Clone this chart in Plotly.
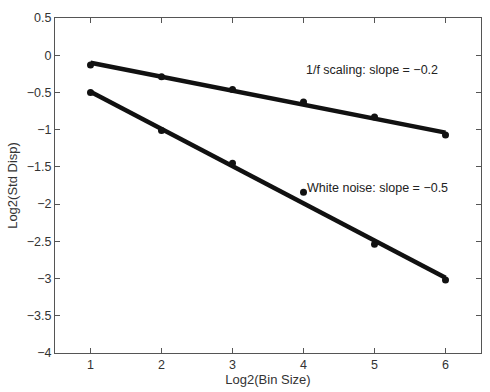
import plotly.graph_objects as go

bin_size = [1, 2, 3, 4, 5, 6]
pink_std = [-0.13, -0.29, -0.46, -0.63, -0.83, -1.07]
white_std = [-0.50, -1.01, -1.45, -1.84, -2.54, -3.02]

fit_x = [1, 6]
pink_fit = [-0.10, -1.04]
white_fit = [-0.49, -2.99]

x_ticks = [1, 2, 3, 4, 5, 6]
y_ticks = [0.5, 0, -0.5, -1, -1.5, -2, -2.5, -3, -3.5, -4]
y_labels = ["0.5", "0", "\u22120.5", "\u22121", "\u22121.5", "\u22122", "\u22122.5", "\u22123", "\u22123.5", "\u22124"]

font_family = "Liberation Sans, Arial, Helvetica, sans-serif"

fig = go.Figure()
for ys in (pink_fit, white_fit):
    fig.add_trace(go.Scatter(x=fit_x, y=ys, mode="lines",
                             line=dict(color="#111111", width=4.5), showlegend=False))
for ys in (pink_std, white_std):
    fig.add_trace(go.Scatter(x=bin_size, y=ys, mode="markers",
                             marker=dict(color="#111111", size=7), showlegend=False))

fig.add_annotation(x=4.0, y=-0.2, text="1/f scaling: slope = \u22120.2", showarrow=False,
                   xanchor="left", yanchor="middle", font=dict(size=12.5, color="#222222", family=font_family))
fig.add_annotation(x=4.02, y=-1.79, text="White noise: slope = \u22120.5", showarrow=False,
                   xanchor="left", yanchor="middle", font=dict(size=12.5, color="#222222", family=font_family))

axis_common = dict(showgrid=False, zeroline=False, showline=True, linecolor="#555555", linewidth=1.2,
                   mirror="ticks", ticks="inside", ticklen=5, tickcolor="#555555", tickwidth=1.2,
                   tickfont=dict(size=12.5, color="#333333", family=font_family))

fig.update_xaxes(range=[0.5, 6.5], tickvals=x_ticks, ticktext=[str(v) for v in x_ticks],
                 title=dict(text="Log2(Bin Size)", font=dict(size=13, color="#333333", family=font_family), standoff=2),
                 **axis_common)
fig.update_yaxes(range=[-4, 0.5], tickvals=y_ticks, ticktext=y_labels,
                 title=dict(text="Log2(Std Disp)", font=dict(size=13, color="#333333", family=font_family), standoff=6),
                 **axis_common)

fig.update_layout(width=490, height=392, margin=dict(l=55, r=9, t=18, b=39),
                  plot_bgcolor="white", paper_bgcolor="white", showlegend=False)

fig.write_html("out.html", config={"displayModeBar": False},
               post_script="document.body.style.margin='0';")
